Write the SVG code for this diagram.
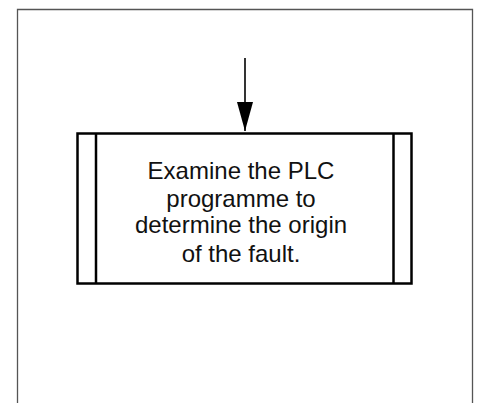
<svg xmlns="http://www.w3.org/2000/svg" width="477" height="403" viewBox="0 0 477 403">
<style>
.frame{fill:none;stroke:#555;stroke-width:1.3}
.box{fill:#fff;stroke:#000;stroke-width:2.5}
.line{stroke:#000;stroke-width:2.5}
.conn{stroke:#000;stroke-width:1.6;fill:none}
.t{font-family:"Liberation Sans",Arial,sans-serif;font-size:24px;fill:#111;text-anchor:middle}
</style>
<defs>
<marker id="arr" markerUnits="userSpaceOnUse" markerWidth="30" markerHeight="17" refX="29" refY="8" orient="auto">
<path d="M0,0 L29,8 L0,16 Z" fill="#000"/>
</marker>
</defs>
<path class="frame" d="M17.5,410 V9.5 H472.5 V410"/>
<g id="connectors">
<line class="conn" x1="245" y1="58" x2="245" y2="131" marker-end="url(#arr)"/>
</g>
<g id="node-examine">
<rect class="box" x="77.5" y="133.5" width="334" height="150"/>
<line class="line" x1="96" y1="133.5" x2="96" y2="283.5"/>
<line class="line" x1="393.5" y1="133.5" x2="393.5" y2="283.5"/>
<text class="t" x="241" y="178.5">Examine the PLC</text>
<text class="t" x="241" y="206.5">programme to</text>
<text class="t" x="241" y="233">determine the origin</text>
<text class="t" x="241" y="261.5">of the fault.</text>
</g>
</svg>
